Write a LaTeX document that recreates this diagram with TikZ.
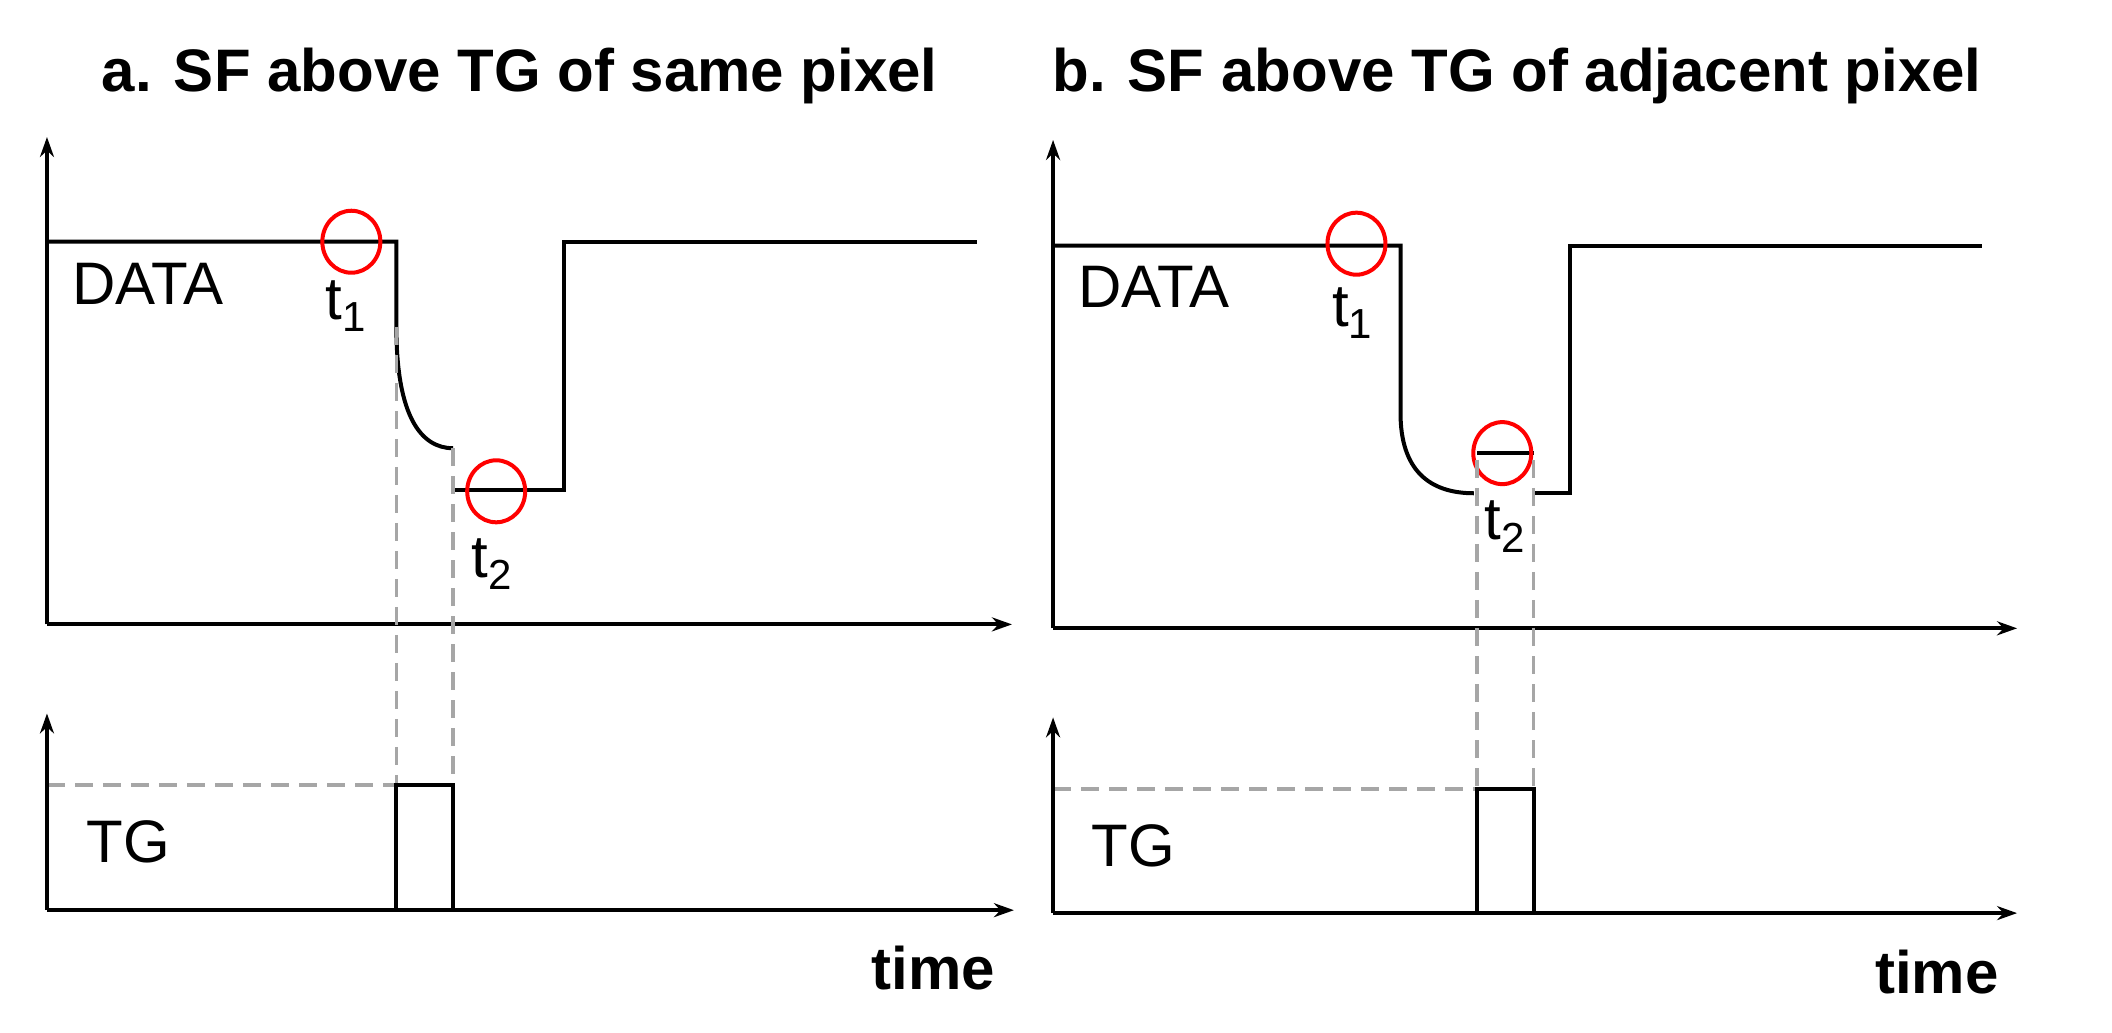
\documentclass[tikz,border=0pt]{standalone}
\usepackage{fontspec}
\setmainfont{Liberation Sans}
\usetikzlibrary{arrows.meta,shapes.geometric}
\begin{document}
\begin{tikzpicture}[x=0.4893pt,y=-0.4893pt,
  sig/.style={line width=2pt,line join=miter},
  ax/.style={line width=2pt,-{Stealth[length=10pt,width=7pt]}},
  guide/.style={line width=1.8pt,draw=black!35,dash pattern=on 9pt off 5pt},
  redring/.style={draw=red,line width=2pt,ellipse,minimum width=29pt,minimum height=31pt,inner sep=0pt},
  lbl/.style={font=\fontsize{30}{34}\selectfont,inner sep=0pt},
  ttl/.style={font=\bfseries\fontsize{30}{34}\selectfont,inner sep=0pt}]
\useasboundingbox (0,0) rectangle (2158,1054.5);
% ---------- panel a ----------
\node[ttl] (ta) at (531,78) {a. SF above TG of same pixel};
\coordinate (ao) at (48,638);
\coordinate (ay) at (48,140);
\coordinate (ax) at (1034,638);
\draw[ax] (ao) -- (ay);
\draw[ax] (ao) -- (ax);
\draw[sig] (48,247) -- (405,247) -- (405,334) .. controls (405,425) and (430,458) .. (463,458);
\draw[sig] (463,501) -- (576,501) -- (576,247) -- (998,247);
\node[redring] (c1a) at (359,247) {};
\node[redring] (c2a) at (507,502) {};
\node[lbl] (da) at (151,290) {DATA};
\node[lbl] (t1a) at (354,313) {t\textsubscript{1}};
\node[lbl] (t2a) at (503,576) {t\textsubscript{2}};
\draw[guide] (405,334) -- (405,930);
\draw[guide] (463,458) -- (463,802);
\draw[guide] (48,802) -- (405,802);
\coordinate (bo) at (48,930);
\draw[ax] (bo) -- (48,729);
\draw[ax] (bo) -- (1036,930);
\draw[sig] (405,930) -- (405,802) -- (463,802) -- (463,930);
\node[lbl] (tga) at (131,860) {TG};
\node[ttl] (tma) at (954,989) {time};
% ---------- panel b ----------
\node[ttl] (tb) at (1550,78) {b. SF above TG of adjacent pixel};
\coordinate (co) at (1076,642);
\draw[ax] (co) -- (1076,143);
\draw[ax] (co) -- (2061,642);
\draw[sig] (1076,251) -- (1431,251) -- (1431,422) .. controls (1431,480) and (1460,504) .. (1506,504);
\draw[sig] (1509,463) -- (1567,463);
\draw[sig] (1567,504) -- (1604,504) -- (1604,251) -- (2025,251);
\node[redring] (c1b) at (1386,249) {};
\node[redring] (c2b) at (1535,463) {};
\node[lbl] (db) at (1179,293) {DATA};
\node[lbl] (t1b) at (1382,320) {t\textsubscript{1}};
\node[lbl] (t2b) at (1538,538) {t\textsubscript{2}};
\draw[guide] (1509,470) -- (1509,806);
\draw[guide] (1567,470) -- (1567,806);
\draw[guide] (1076,806) -- (1509,806);
\coordinate (do) at (1076,933);
\draw[ax] (do) -- (1076,733);
\draw[ax] (do) -- (2061,933);
\draw[sig] (1509,933) -- (1509,806) -- (1567,806) -- (1567,933);
\node[lbl] (tgb) at (1158,864) {TG};
\node[ttl] (tmb) at (1979,993) {time};
\end{tikzpicture}
\end{document}
